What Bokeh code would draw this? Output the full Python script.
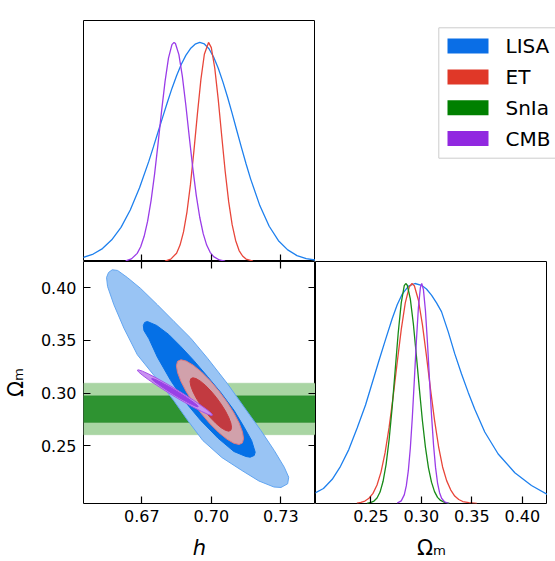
import math
from bokeh.plotting import figure
from bokeh.models import (Range1d, FixedTicker, PrintfTickFormatter, LinearAxis, BoxAnnotation)
from bokeh.core.properties import value
from bokeh.layouts import row, column
from bokeh.embed import file_html
from bokeh.resources import INLINE

FONT = "DejaVu Sans"

# ---------------- axes ----------------
H_RANGE = (0.6448, 0.7450)
OM_RANGE = (0.195, 0.425)
DENS_RANGE = (0.0, 1.1)
H_TICKS = [0.67, 0.70, 0.73]
OM_TICKS = [0.25, 0.30, 0.35, 0.40]
H_LABEL = "h"
OM_LABEL = "Ωₘ"

SERIES = ["LISA", "ET", "SnIa", "CMB"]
LEGEND_COLORS = ["#0a6ee6", "#e03828", "#008000", "#9128e0"]
LINE_COLORS = {"LISA": "#1e80ee", "ET": "#e8463a", "SnIa": "#178a17", "CMB": "#9a3ce8"}

# ---------------- 1D marginals: h ----------------
LISA_H_X = [0.644, 0.649, 0.653, 0.657, 0.661, 0.665, 0.669, 0.673, 0.675, 0.677, 0.679,
            0.681, 0.683, 0.685, 0.687, 0.689, 0.691, 0.693, 0.695, 0.697, 0.699, 0.701,
            0.703, 0.705, 0.707, 0.709, 0.711, 0.713, 0.715, 0.717, 0.721, 0.725, 0.729,
            0.733, 0.737, 0.741, 0.746]
LISA_H_P = [0.016, 0.034, 0.059, 0.099, 0.156, 0.235, 0.337, 0.457, 0.523, 0.591, 0.659,
            0.726, 0.790, 0.848, 0.899, 0.941, 0.972, 0.992, 1.000, 0.993, 0.971, 0.933,
            0.882, 0.820, 0.751, 0.676, 0.598, 0.521, 0.446, 0.376, 0.254, 0.161, 0.095,
            0.053, 0.027, 0.013, 0.005]

ET_H_X = [0.680, 0.6825, 0.685, 0.6865, 0.688, 0.6895, 0.691, 0.6925, 0.694, 0.6955, 0.697,
          0.6988, 0.700, 0.7015, 0.703, 0.7045, 0.706, 0.7075, 0.709, 0.7105, 0.712, 0.7135,
          0.715, 0.718]
ET_H_P = [0.002, 0.011, 0.038, 0.075, 0.135, 0.227, 0.352, 0.506, 0.674, 0.830, 0.946,
          1.000, 0.976, 0.882, 0.739, 0.573, 0.411, 0.273, 0.168, 0.096, 0.050, 0.025,
          0.011, 0.002]

CMB_H_X = [0.663, 0.6655, 0.668, 0.6695, 0.671, 0.6725, 0.674, 0.6755, 0.677, 0.6785, 0.680,
           0.6815, 0.683, 0.6839, 0.6845, 0.686, 0.6875, 0.689, 0.6905, 0.692, 0.6935, 0.695,
           0.6965, 0.698, 0.6995, 0.701, 0.7035, 0.706]
CMB_H_P = [0.003, 0.012, 0.037, 0.067, 0.115, 0.184, 0.279, 0.399, 0.538, 0.684, 0.820,
           0.928, 0.990, 1.000, 0.995, 0.944, 0.845, 0.713, 0.567, 0.426, 0.302, 0.202,
           0.127, 0.075, 0.042, 0.022, 0.007, 0.002]

# ---------------- 1D marginals: Omega_m ----------------
LISA_OM_X = [0.194, 0.2029, 0.2116, 0.2198, 0.2280, 0.2363, 0.2446, 0.2512, 0.2578, 0.2644,
             0.2710, 0.2760, 0.2810, 0.2872, 0.2936, 0.3001, 0.3050, 0.3100, 0.3150, 0.3199,
             0.3266, 0.3331, 0.3397, 0.3464, 0.3529, 0.3628, 0.3761, 0.3926, 0.4091, 0.4260]
LISA_OM_P = [0.046, 0.068, 0.110, 0.169, 0.245, 0.343, 0.448, 0.548, 0.648, 0.745,
             0.840, 0.903, 0.952, 0.988, 1.000, 0.992, 0.975, 0.947, 0.912, 0.872,
             0.780, 0.680, 0.590, 0.505, 0.428, 0.325, 0.225, 0.140, 0.082, 0.038]

ET_OM_X = [0.236, 0.240, 0.244, 0.248, 0.252, 0.256, 0.260, 0.264, 0.268, 0.272, 0.276,
           0.280, 0.284, 0.288, 0.2907, 0.293, 0.297, 0.301, 0.305, 0.309, 0.313, 0.317,
           0.321, 0.325, 0.329, 0.333, 0.337, 0.341, 0.347, 0.355]
ET_OM_P = [0.002, 0.005, 0.011, 0.024, 0.046, 0.084, 0.144, 0.231, 0.347, 0.487, 0.641,
           0.790, 0.912, 0.985, 1.000, 0.990, 0.925, 0.813, 0.671, 0.520, 0.379, 0.259,
           0.166, 0.104, 0.062, 0.034, 0.018, 0.009, 0.004, 0.001]

SNIA_OM_X = [0.246, 0.250, 0.253, 0.256, 0.259, 0.262, 0.265, 0.268, 0.271, 0.274, 0.277,
             0.280, 0.283, 0.2845, 0.286, 0.289, 0.292, 0.295, 0.298, 0.301, 0.304, 0.307,
             0.310, 0.313, 0.316, 0.319, 0.323, 0.328]
SNIA_OM_P = [0.001, 0.005, 0.011, 0.025, 0.052, 0.101, 0.178, 0.291, 0.437, 0.607, 0.775,
             0.912, 0.990, 1.000, 0.992, 0.930, 0.817, 0.673, 0.520, 0.376, 0.255, 0.162,
             0.097, 0.054, 0.028, 0.014, 0.005, 0.001]

CMB_OM_X = [0.276, 0.280, 0.283, 0.285, 0.287, 0.289, 0.291, 0.293, 0.295, 0.297, 0.299,
            0.3003, 0.302, 0.304, 0.306, 0.308, 0.310, 0.312, 0.314, 0.316, 0.318, 0.320,
            0.323, 0.327]
CMB_OM_P = [0.002, 0.012, 0.039, 0.080, 0.148, 0.251, 0.392, 0.562, 0.738, 0.889, 0.982,
            1.000, 0.972, 0.876, 0.731, 0.565, 0.403, 0.267, 0.164, 0.093, 0.049, 0.024,
            0.007, 0.001]

# ---------------- 2D contours (h, Omega_m) ----------------
LISA_95_H = [0.65722, 0.65952, 0.66372, 0.66948, 0.67671, 0.68389, 0.69112, 0.69835, 0.70701,
             0.71419, 0.72142, 0.72718, 0.73151, 0.73342, 0.73298, 0.73008, 0.72705, 0.72056,
             0.71320, 0.70454, 0.69632, 0.68982, 0.68376, 0.67597, 0.66805, 0.66225, 0.65792,
             0.65519, 0.65476, 0.65562]
LISA_95_OM = [0.41715, 0.41648, 0.40983, 0.39937, 0.38388, 0.36800, 0.35213, 0.33312, 0.30878,
              0.28654, 0.26439, 0.24538, 0.22951, 0.22000, 0.21373, 0.21021, 0.21068, 0.21639,
              0.22637, 0.23873, 0.25489, 0.27390, 0.29291, 0.31477, 0.33635, 0.36164, 0.38388,
              0.40127, 0.40983, 0.41458]

LISA_68_H = [0.67238, 0.67640, 0.68160, 0.68679, 0.69242, 0.69835, 0.70411, 0.70987, 0.71419,
             0.71740, 0.71896, 0.71852, 0.71679, 0.71493, 0.70974, 0.70281, 0.69545, 0.68822,
             0.68246, 0.67671, 0.67307, 0.67090, 0.67064, 0.67121]
LISA_68_OM = [0.36800, 0.36420, 0.35565, 0.34424, 0.33093, 0.31572, 0.30051, 0.28340, 0.26753,
              0.25489, 0.24376, 0.24063, 0.23901, 0.23968, 0.24443, 0.25726, 0.27390, 0.29291,
              0.31192, 0.33407, 0.35156, 0.35945, 0.36420, 0.36706]

ET_95_H = [0.71393, 0.71344, 0.71199, 0.70968, 0.70668, 0.70318, 0.69943, 0.69568, 0.69218,
           0.68918, 0.68687, 0.68542, 0.68493, 0.68542, 0.68687, 0.68918, 0.69218, 0.69568,
           0.69943, 0.70318, 0.70668, 0.70968, 0.71199, 0.71344]
ET_95_OM = [0.25672, 0.26321, 0.27163, 0.28138, 0.29182, 0.30222, 0.31189, 0.32015, 0.32644,
            0.33035, 0.33160, 0.33010, 0.32596, 0.31947, 0.31105, 0.30130, 0.29086, 0.28046,
            0.27080, 0.26254, 0.25623, 0.25233, 0.25108, 0.25258]

ET_68_H = [0.70874, 0.70844, 0.70754, 0.70612, 0.70426, 0.70210, 0.69978, 0.69746, 0.69530,
           0.69344, 0.69202, 0.69113, 0.69082, 0.69113, 0.69202, 0.69344, 0.69530, 0.69746,
           0.69978, 0.70210, 0.70426, 0.70612, 0.70754, 0.70844]
ET_68_OM = [0.26728, 0.27138, 0.27668, 0.28283, 0.28941, 0.29597, 0.30206, 0.30727, 0.31124,
            0.31370, 0.31449, 0.31355, 0.31094, 0.30684, 0.30154, 0.29539, 0.28881, 0.28225,
            0.27616, 0.27095, 0.26698, 0.26452, 0.26373, 0.26468]

CMB_95_H = [0.70051, 0.69996, 0.69834, 0.69576, 0.69240, 0.68848, 0.68428, 0.68008, 0.67617,
            0.67280, 0.67023, 0.66860, 0.66805, 0.66860, 0.67023, 0.67280, 0.67617, 0.68008,
            0.68428, 0.68848, 0.69240, 0.69576, 0.69834, 0.69996]
CMB_95_OM = [0.27900, 0.28073, 0.28380, 0.28799, 0.29303, 0.29857, 0.30424, 0.30963, 0.31440,
             0.31822, 0.32081, 0.32201, 0.32174, 0.32001, 0.31695, 0.31275, 0.30771, 0.30217,
             0.29650, 0.29111, 0.28634, 0.28252, 0.27993, 0.27873]

CMB_68_H = [0.69434, 0.69400, 0.69299, 0.69139, 0.68931, 0.68688, 0.68428, 0.68168, 0.67925,
            0.67717, 0.67557, 0.67456, 0.67422, 0.67456, 0.67557, 0.67717, 0.67925, 0.68168,
            0.68428, 0.68688, 0.68931, 0.69139, 0.69299, 0.69400]
CMB_68_OM = [0.28712, 0.28819, 0.29009, 0.29269, 0.29582, 0.29926, 0.30277, 0.30612, 0.30907,
             0.31144, 0.31305, 0.31379, 0.31362, 0.31255, 0.31065, 0.30805, 0.30492, 0.30148,
             0.29797, 0.29462, 0.29166, 0.28930, 0.28769, 0.28695]

SNIA_OM_95 = (0.2603, 0.3094)
SNIA_OM_68 = (0.2720, 0.2974)


def style_axis(ax, ticks, labels):
    ax.ticker = FixedTicker(ticks=ticks)
    ax.formatter = PrintfTickFormatter(format="%.2f")
    ax.major_tick_in = 7
    ax.major_tick_out = 0
    ax.minor_tick_line_color = None
    ax.major_tick_line_color = "black"
    ax.major_tick_line_width = 1.2
    ax.axis_line_color = None
    ax.major_label_text_font = FONT
    ax.major_label_text_font_size = "16px"
    ax.major_label_text_color = "black" if labels else None
    ax.axis_label_text_font = FONT
    ax.axis_label_text_font_size = "21px"
    ax.axis_label_text_color = "black"


def base_fig(xr, yr, fw, fh, left, top, bottom, x_axis=True, y_axis=True):
    p = figure(frame_width=fw, frame_height=fh, x_range=Range1d(*xr), y_range=Range1d(*yr),
               min_border_left=left, min_border_right=0, min_border_top=top,
               min_border_bottom=bottom, toolbar_location=None, output_backend="svg",
               x_axis_type="linear" if x_axis else None,
               y_axis_type="linear" if y_axis else None)
    p.grid.visible = False
    p.outline_line_color = "black"
    p.outline_line_width = 1
    p.background_fill_color = "white"
    p.border_fill_color = "white"
    return p


# ---- top-left: h marginal ----
p_top = base_fig(H_RANGE, DENS_RANGE, 232, 241, 83, 20, 0, True, False)
style_axis(p_top.xaxis[0], H_TICKS, False)
p_top.line(LISA_H_X, LISA_H_P, line_color=LINE_COLORS["LISA"], line_width=1.3)
p_top.line(ET_H_X, ET_H_P, line_color=LINE_COLORS["ET"], line_width=1.3)
p_top.line(CMB_H_X, CMB_H_P, line_color=LINE_COLORS["CMB"], line_width=1.3)

# ---- legend cell (drawn in a pixel-unit cell) ----
LEG_W, LEG_H = 240, 261
p_leg = figure(frame_width=LEG_W, frame_height=LEG_H,
               x_range=Range1d(0, LEG_W), y_range=Range1d(LEG_H, 0),
               min_border_left=0, min_border_right=0, min_border_top=0, min_border_bottom=0,
               toolbar_location=None, output_backend="svg", x_axis_type=None, y_axis_type=None)
p_leg.grid.visible = False
p_leg.outline_line_color = None
p_leg.background_fill_color = "white"
BOX_LEFT, BOX_TOP, BOX_BOTTOM = 123.3, 7.3, 137.7
ROW0, PITCH = 25.6, 30.8
PATCH_L, PATCH_R, PATCH_H = 132, 173, 15
TEXT_X = 190
rows_y = [ROW0 + PITCH * i for i in range(len(SERIES))]
p_leg.quad(left=[BOX_LEFT], right=[LEG_W + 20], top=[BOX_TOP], bottom=[BOX_BOTTOM],
           fill_color="white", line_color="#cccccc", line_width=1)
p_leg.quad(left=[PATCH_L] * len(SERIES), right=[PATCH_R] * len(SERIES),
           top=[y - PATCH_H / 2 for y in rows_y], bottom=[y + PATCH_H / 2 for y in rows_y],
           fill_color=LEGEND_COLORS, line_color=None)
p_leg.text(x=[TEXT_X] * len(SERIES), y=rows_y, text=SERIES, text_font=value(FONT),
           text_font_size="20px", text_baseline="middle", text_align="left",
           text_color="black")

# ---- bottom-left: 2D ----
p_2d = base_fig(H_RANGE, OM_RANGE, 232, 242, 83, 0, 58)
style_axis(p_2d.xaxis[0], H_TICKS, True)
style_axis(p_2d.yaxis[0], OM_TICKS, True)
p_2d.xaxis[0].major_label_standoff = 6
p_2d.yaxis[0].major_label_standoff = 7
p_2d.xaxis[0].axis_label = H_LABEL
p_2d.xaxis[0].axis_label_text_font_style = "italic"
p_2d.xaxis[0].axis_label_standoff = 11
p_2d.yaxis[0].axis_label = OM_LABEL
p_2d.yaxis[0].axis_label_text_font_style = "normal"
p_2d.yaxis[0].axis_label_standoff = 10
ax_top = LinearAxis()
style_axis(ax_top, H_TICKS, False)
p_2d.add_layout(ax_top, "above")
ax_right = LinearAxis()
style_axis(ax_right, OM_TICKS, False)
p_2d.add_layout(ax_right, "right")

p_2d.add_layout(BoxAnnotation(bottom=SNIA_OM_95[0], top=SNIA_OM_95[1], fill_color="#a9d5a3",
                              fill_alpha=1, line_color="#80c17a", line_width=1, level="underlay"))
p_2d.add_layout(BoxAnnotation(bottom=SNIA_OM_68[0], top=SNIA_OM_68[1], fill_color="#2e9331",
                              fill_alpha=1, line_color="#1e7d20", line_width=1, level="underlay"))
p_2d.patch(LISA_95_H, LISA_95_OM, fill_color="#99c4f4", line_color="#62a5f0", line_width=1)
p_2d.patch(LISA_68_H, LISA_68_OM, fill_color="#0570e6", line_color="#0570e6", line_width=1)
p_2d.patch(ET_95_H, ET_95_OM, fill_color="#d1a1ab", line_color="#df7a80", line_width=1)
p_2d.patch(ET_68_H, ET_68_OM, fill_color="#c23a40", line_color="#c8383c", line_width=1)
p_2d.patch(CMB_95_H, CMB_95_OM, fill_color="#c991f0", line_color="#a552e8", line_width=1)
p_2d.patch(CMB_68_H, CMB_68_OM, fill_color="#9940e6", line_color="#9940e6", line_width=1)

# ---- bottom-right: Omega_m marginal ----
p_right = base_fig(OM_RANGE, DENS_RANGE, 232, 242, 0, 0, 58, True, False)
style_axis(p_right.xaxis[0], OM_TICKS, True)
p_right.xaxis[0].major_label_standoff = 6
p_right.xaxis[0].axis_label = OM_LABEL
p_right.xaxis[0].axis_label_text_font_style = "normal"
p_right.xaxis[0].axis_label_standoff = 11
p_right.line(LISA_OM_X, LISA_OM_P, line_color=LINE_COLORS["LISA"], line_width=1.3)
p_right.line(ET_OM_X, ET_OM_P, line_color=LINE_COLORS["ET"], line_width=1.3)
p_right.line(SNIA_OM_X, SNIA_OM_P, line_color=LINE_COLORS["SnIa"], line_width=1.3)
p_right.line(CMB_OM_X, CMB_OM_P, line_color=LINE_COLORS["CMB"], line_width=1.3)

layout = column(row(p_top, p_leg), row(p_2d, p_right))
open("out.html", "w").write(file_html(layout, INLINE))
